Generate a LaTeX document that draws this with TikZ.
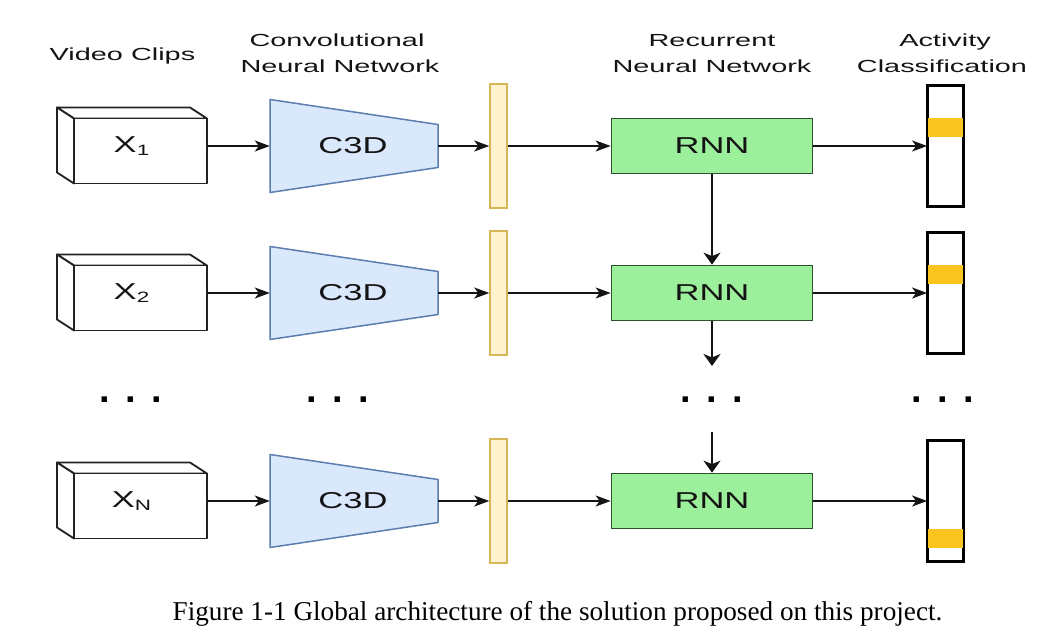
\documentclass[tikz,border=0pt]{standalone}
\usepackage{fontspec}
\setmainfont{Liberation Sans}
\newfontfamily\capfont{Liberation Serif}
\usepackage{graphicx}
\usetikzlibrary{arrows.meta}
\definecolor{txt}{HTML}{141414}
\definecolor{c3dfill}{HTML}{DAE8FC}
\definecolor{c3dline}{HTML}{5C7EAF}
\definecolor{featfill}{HTML}{FFF2CC}
\definecolor{featline}{HTML}{D6B656}
\definecolor{rnnfill}{HTML}{9CF09C}
\definecolor{rnnline}{HTML}{2F4F2F}
\definecolor{hot}{HTML}{FBC520}
\definecolor{cubeline}{HTML}{222222}
\newcommand{\hs}[2]{\scalebox{#1}[1]{#2}}
\tikzset{
  hdr/.style={font=\fontsize{17.5}{17.5}\selectfont, text=txt, anchor=base, inner sep=0},
  lbl/.style={font=\fontsize{23}{23}\selectfont, text=txt, inner sep=0},
  conn/.style={draw=txt, line width=1.6pt, -{Stealth[length=15pt,width=11pt,inset=4pt]}},
  vconn/.style={draw=txt, line width=1.6pt, -{Stealth[length=12pt,width=17pt,inset=3.5pt]}},
  cubebox/.style={minimum width=151pt, minimum height=76pt, inner sep=0},
  cnnbox/.style={minimum width=168pt, minimum height=93pt, inner sep=0},
  featbar/.style={draw=featline, fill=featfill, line width=1.5pt, minimum width=17pt, minimum height=124pt, inner sep=0},
  rnnbox/.style={draw=rnnline, fill=rnnfill, line width=1.7pt, minimum width=201pt, minimum height=55pt, inner sep=0, font=\fontsize{23}{23}\selectfont, text=txt},
  classbar/.style={draw=black, fill=white, line width=1.8pt, minimum width=35pt, minimum height=120pt, inner sep=0},
  hotcell/.style={fill=hot, minimum width=35pt, minimum height=19pt, inner sep=0},
  dotrow/.style={font=\bfseries\fontsize{38}{38}\selectfont, text=black, anchor=base, inner sep=0},
  cubeface/.style={draw=cubeline, line width=1.8pt, fill=white, line join=round}
}
\begin{document}
\begin{tikzpicture}[x=1pt,y=-1pt]
\useasboundingbox (0,0) rectangle (1037,644);
\fill[white] (0,0) rectangle (1037,644);
% headers
\node[hdr] (hvid) at (122.5,60.5) {\hs{1.65}{Video Clips}};
\node[hdr] (hcnnA) at (337,47) {\hs{1.65}{Convolutional}};
\node[hdr] (hcnnB) at (340,72.3) {\hs{1.65}{Neural Network}};
\node[hdr] (hrnnA) at (712,47) {\hs{1.65}{Recurrent}};
\node[hdr] (hrnnB) at (712,72.3) {\hs{1.65}{Neural Network}};
\node[hdr] (hactA) at (945,47) {\hs{1.65}{Activity}};
\node[hdr] (hactB) at (942,72.3) {\hs{1.65}{Classification}};
% rows
\foreach \r/\c/\sub/\ho in {1/146/1/-18, 2/293/2/-18, 3/501/N/37.5}{
  % cube
  \draw[cubeface] (57,\c-38.5) -- (190,\c-38.5) -- (207,\c-27.5) -- (74,\c-27.5) -- cycle;
  \draw[cubeface] (57,\c-38.5) -- (74,\c-27.5) -- (74,\c+37.5) -- (57,\c+26.5) -- cycle;
  \draw[cubeface] (74,\c-27.5) rectangle (207,\c+37.5);
  \node[cubebox] (clip\r) at (131.5,\c) {};
  \node[lbl] (xlab\r) at (131.5,\c) {\hs{1.5}{X\raisebox{-3pt}{\fontsize{15}{15}\selectfont\sub}}};
  % C3D trapezoid
  \draw[draw=c3dline, fill=c3dfill, line width=1.5pt, line join=round]
     (270,\c-46.5) -- (438,\c-21.5) -- (438,\c+21.5) -- (270,\c+46.5) -- cycle;
  \node[cnnbox] (cnn\r) at (354,\c) {};
  \node[lbl] (cnnlab\r) at (353,\c) {\hs{1.5}{C3D}};
  % feature bar
  \node[featbar] (feat\r) at (498.5,\c) {};
  % RNN
  \node[rnnbox] (rnn\r) at (712,\c) {\hs{1.5}{RNN}};
  % class bar
  \node[classbar] (cls\r) at (945.5,\c) {};
  \node[hotcell] (hot\r) at (945.5,\c+\ho) {};
  \draw[black, line width=1.8pt] (cls\r.north west) rectangle (cls\r.south east);
  % connectors
  \draw[conn] (clip\r.east) -- (cnn\r.west);
  \draw[conn] (cnn\r.east) -- (feat\r.west);
  \draw[conn] (feat\r.east) -- (rnn\r.west);
  \draw[conn] (rnn\r.east) -- (cls\r.west);
}
\coordinate (r2out) at (712,366);
\coordinate (r3in) at (712,432);
\draw[vconn] (rnn1.south) -- (rnn2.north);
\draw[vconn] (rnn2.south) -- (r2out);
\draw[vconn] (r3in) -- (rnn3.north);
% dots
\node[dotrow] (dotsA) at (131,402.5) {.\hspace{15.5pt}.\hspace{15.5pt}.};
\node[dotrow] (dotsB) at (338,402.5) {.\hspace{15.5pt}.\hspace{15.5pt}.};
\node[dotrow] (dotsC) at (712,402.5) {.\hspace{15.5pt}.\hspace{15.5pt}.};
\node[dotrow] (dotsD) at (943,402.5) {.\hspace{15.5pt}.\hspace{15.5pt}.};
% caption
\node[font=\capfont\fontsize{27.2}{27.2}\selectfont, anchor=base, inner sep=0, text=black] (cap) at (557.5,620) {Figure 1-1 Global architecture of the solution proposed on this project.};
\end{tikzpicture}
\end{document}
